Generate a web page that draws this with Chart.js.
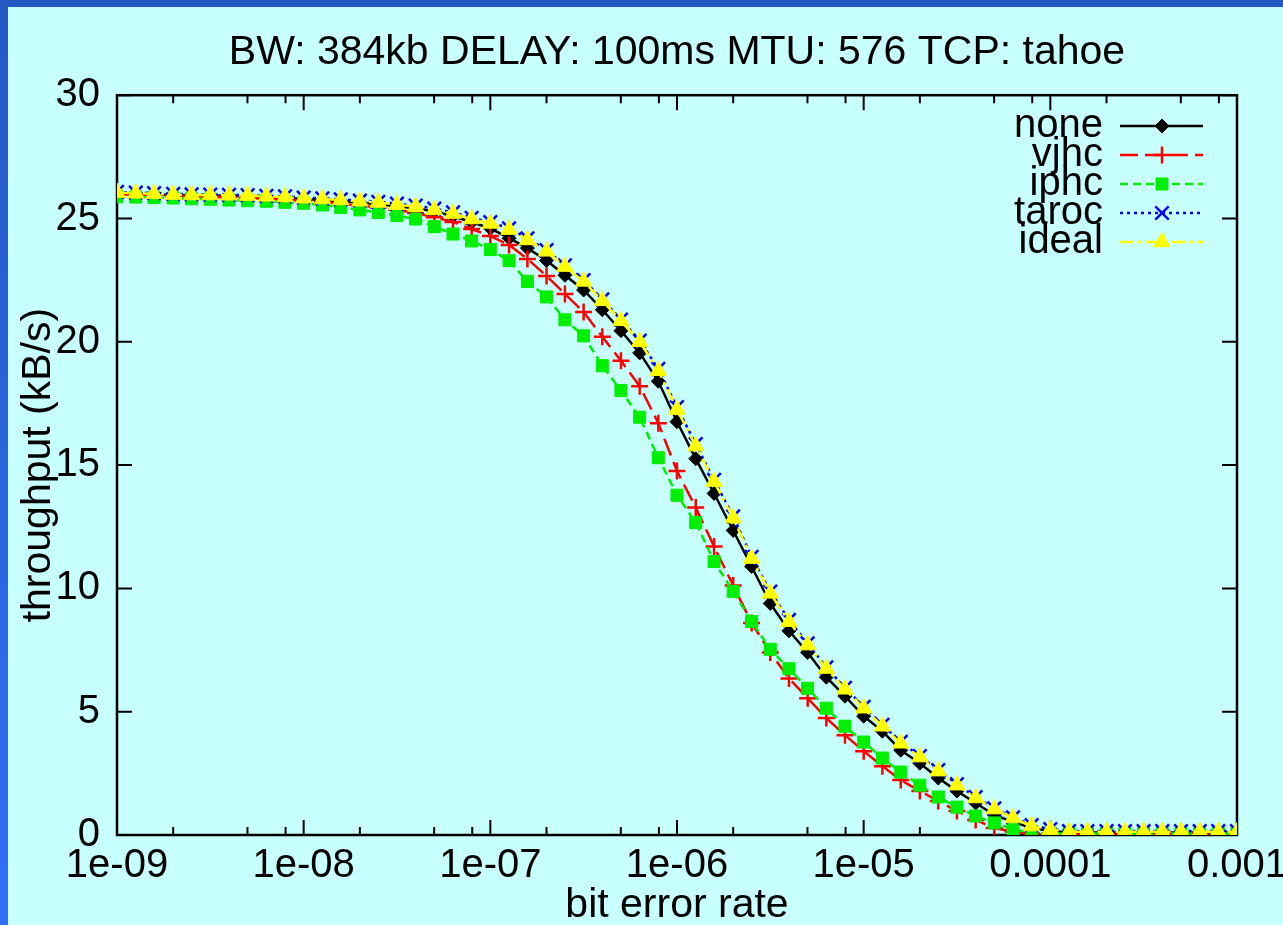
<!DOCTYPE html>
<html>
<head>
<meta charset="utf-8">
<script src="https://cdn.jsdelivr.net/npm/chart.js@4.4.0/dist/chart.umd.min.js"></script>
<style>
  html, body { margin: 0; padding: 0; }
  body { width: 1283px; height: 925px; overflow: hidden; background: linear-gradient(to bottom, #2459c2, #3070f6); position: relative; }
  #panel { position: absolute; left: 8px; top: 7px; width: 1275px; height: 918px; background: #c8ffff; }
  #chart { display: block; }
</style>
</head>
<body>
<div id="panel"><canvas id="chart" width="1275" height="918"></canvas></div>
<script>
// bit error rate samples (10 per decade)
const bitErrorRate = [
  1e-9, 1.26e-9, 1.58e-9, 2e-9, 2.51e-9, 3.16e-9, 3.98e-9, 5.01e-9, 6.31e-9, 7.94e-9,
  1e-8, 1.26e-8, 1.58e-8, 2e-8, 2.51e-8, 3.16e-8, 3.98e-8, 5.01e-8, 6.31e-8, 7.94e-8,
  1e-7, 1.26e-7, 1.58e-7, 2e-7, 2.51e-7, 3.16e-7, 3.98e-7, 5.01e-7, 6.31e-7, 7.94e-7,
  1e-6, 1.26e-6, 1.58e-6, 2e-6, 2.51e-6, 3.16e-6, 3.98e-6, 5.01e-6, 6.31e-6, 7.94e-6,
  1e-5, 1.26e-5, 1.58e-5, 2e-5, 2.51e-5, 3.16e-5, 3.98e-5, 5.01e-5, 6.31e-5, 7.94e-5,
  1e-4, 1.26e-4, 1.58e-4, 2e-4, 2.51e-4, 3.16e-4, 3.98e-4, 5.01e-4, 6.31e-4, 7.94e-4,
  1e-3
];

// throughput (kB/s) per compression scheme
const none = [
  26.03, 26.0, 25.98, 25.95, 25.93, 25.93, 25.92, 25.9, 25.87, 25.84,
  25.79, 25.75, 25.7, 25.65, 25.58, 25.5, 25.42, 25.28, 25.1, 24.85,
  24.6, 24.2, 23.8, 23.3, 22.7, 22.1, 21.3, 20.45, 19.55, 18.4,
  16.76, 15.26, 13.85, 12.35, 10.89, 9.39, 8.28, 7.4, 6.4, 5.63,
  4.82, 4.21, 3.44, 2.91, 2.31, 1.78, 1.3, 0.81, 0.53, 0.28,
  0.16, 0.1, 0.1, 0.1, 0.1, 0.1, 0.1, 0.1, 0.1, 0.1,
  0.1
];
const vjhc = [
  25.98, 25.96, 25.95, 25.93, 25.9, 25.88, 25.86, 25.84, 25.8, 25.76,
  25.72, 25.66, 25.6, 25.52, 25.45, 25.35, 25.22, 25.05, 24.86, 24.57,
  24.29, 23.93, 23.36, 22.67, 21.94, 21.21, 20.2, 19.23, 18.2, 16.7,
  14.76, 13.28, 11.7, 10.12, 8.6, 7.4, 6.35, 5.55, 4.74, 4.05,
  3.4, 2.79, 2.23, 1.78, 1.38, 0.97, 0.61, 0.28, 0.14, 0.06,
  0.04, 0.04, 0.04, 0.04, 0.04, 0.04, 0.04, 0.04, 0.04, 0.04,
  0.04
];
const iphc = [
  25.88, 25.87, 25.85, 25.83, 25.8, 25.78, 25.75, 25.72, 25.7, 25.66,
  25.62, 25.55, 25.45, 25.35, 25.24, 25.12, 24.98, 24.67, 24.37, 24.09,
  23.74, 23.29, 22.45, 21.82, 20.89, 20.24, 19.03, 18.02, 16.94, 15.3,
  13.78, 12.67, 11.09, 9.88, 8.66, 7.53, 6.74, 5.95, 5.14, 4.41,
  3.77, 3.12, 2.55, 2.02, 1.54, 1.13, 0.77, 0.49, 0.24, 0.08,
  0.06, 0.06, 0.06, 0.06, 0.06, 0.06, 0.06, 0.06, 0.06, 0.06,
  0.06
];
const taroc = [
  26.08, 26.05, 26.03, 26.0, 25.98, 25.97, 25.96, 25.95, 25.92, 25.9,
  25.85, 25.82, 25.78, 25.73, 25.68, 25.6, 25.52, 25.4, 25.25, 25.03,
  24.85, 24.6, 24.2, 23.72, 23.1, 22.5, 21.72, 20.9, 20.05, 18.9,
  17.35, 15.85, 14.4, 12.92, 11.28, 9.87, 8.72, 7.77, 6.8, 5.97,
  5.2, 4.47, 3.78, 3.2, 2.63, 2.06, 1.54, 1.08, 0.72, 0.4,
  0.24, 0.16, 0.16, 0.16, 0.16, 0.16, 0.16, 0.16, 0.16, 0.16,
  0.16
];
const ideal = [
  26.05, 26.02, 26.0, 25.97, 25.95, 25.95, 25.94, 25.93, 25.9, 25.87,
  25.82, 25.79, 25.75, 25.7, 25.65, 25.56, 25.48, 25.35, 25.2, 24.98,
  24.8, 24.55, 24.13, 23.67, 23.05, 22.45, 21.66, 20.85, 20.0, 18.83,
  17.25, 15.77, 14.33, 12.85, 11.21, 9.8, 8.65, 7.7, 6.75, 5.91,
  5.14, 4.41, 3.72, 3.16, 2.59, 2.02, 1.5, 1.05, 0.69, 0.36,
  0.22, 0.13, 0.13, 0.13, 0.13, 0.13, 0.13, 0.13, 0.13, 0.13,
  0.13
];

const seriesNames = ['none', 'vjhc', 'iphc', 'taroc', 'ideal'];
const seriesValues = [none, vjhc, iphc, taroc, ideal];

const xTickValues = [1e-9, 1e-8, 1e-7, 1e-6, 1e-5, 1e-4, 1e-3];
const xTickLabels = ['1e-09', '1e-08', '1e-07', '1e-06', '1e-05', '0.0001', '0.001'];
const xMinorTickValues = [
  2e-9, 5e-9, 8e-9, 2e-8, 5e-8, 8e-8, 2e-7, 5e-7, 8e-7,
  2e-6, 5e-6, 8e-6, 2e-5, 5e-5, 8e-5, 2e-4, 5e-4, 8e-4
];
const yTickValues = [0, 5, 10, 15, 20, 25, 30];

const styles = [
  { color: '#000000', dash: [], point: 'rectRot', radius: 7, bw: 1, fill: true },
  { color: '#ff0000', dash: [18, 7], point: 'cross', radius: 8.5, bw: 2.5, fill: false },
  { color: '#00ee00', dash: [8, 5], point: 'rect', radius: 8.5, bw: 1, fill: true },
  { color: '#0000ff', dash: [3, 4], point: 'crossRot', radius: 9.5, bw: 2.5, fill: false },
  { color: '#ffff00', dash: [13, 5, 3, 5], point: 'triangle', radius: 9.5, bw: 1, fill: true }
];

const FONT = '"Liberation Sans", Arial, sans-serif';
Chart.defaults.font.family = FONT;
Chart.defaults.color = '#000';

const datasets = seriesNames.map((name, k) => ({
  label: name,
  data: bitErrorRate.map((x, i) => ({ x: x, y: seriesValues[k][i] })),
  borderColor: styles[k].color,
  backgroundColor: styles[k].color,
  borderWidth: 2.5,
  borderDash: styles[k].dash,
  pointStyle: styles[k].point,
  pointRadius: styles[k].radius,
  pointBorderWidth: styles[k].bw,
  pointBackgroundColor: styles[k].color,
  pointBorderColor: styles[k].color,
  tension: 0,
  order: seriesNames.length - k
}));

// frame and inward tick marks, gnuplot style
const framePlugin = {
  id: 'frame',
  beforeDatasetsDraw(chart) {
    const { ctx, chartArea: a, scales } = chart;
    ctx.save();
    ctx.strokeStyle = '#000';
    ctx.lineWidth = 2;
    ctx.setLineDash([]);
    ctx.beginPath();
    xTickValues.forEach(v => {
      const px = scales.x.getPixelForValue(v);
      ctx.moveTo(px, a.bottom); ctx.lineTo(px, a.bottom - 15);
      ctx.moveTo(px, a.top); ctx.lineTo(px, a.top + 15);
    });
    xMinorTickValues.forEach(v => {
      const px = scales.x.getPixelForValue(v);
      ctx.moveTo(px, a.bottom); ctx.lineTo(px, a.bottom - 8);
      ctx.moveTo(px, a.top); ctx.lineTo(px, a.top + 8);
    });
    yTickValues.forEach(v => {
      const py = scales.y.getPixelForValue(v);
      ctx.moveTo(a.left, py); ctx.lineTo(a.left + 15, py);
      ctx.moveTo(a.right, py); ctx.lineTo(a.right - 15, py);
    });
    ctx.stroke();
    ctx.lineWidth = 2.5;
    ctx.strokeRect(a.left, a.top, a.right - a.left, a.bottom - a.top);
    ctx.restore();
  }
};

// key in the top right corner, inside the plot
const keyPlugin = {
  id: 'key',
  afterDraw(chart) {
    const { ctx } = chart;
    ctx.save();
    ctx.font = '40px ' + FONT;
    ctx.textAlign = 'right';
    ctx.textBaseline = 'middle';
    seriesNames.forEach((name, k) => {
      const y = 119 + k * 29;
      const s = styles[k];
      ctx.fillStyle = '#000';
      ctx.fillText(name, 1095, y);
      ctx.strokeStyle = s.color;
      ctx.lineWidth = 2.5;
      ctx.setLineDash(s.dash);
      ctx.beginPath();
      ctx.moveTo(1112, y);
      ctx.lineTo(1195, y);
      ctx.stroke();
      ctx.setLineDash([]);
      ctx.fillStyle = s.color;
      ctx.lineWidth = s.bw;
      Chart.helpers.drawPoint(ctx, { pointStyle: s.point, radius: s.radius, borderWidth: s.bw, rotation: 0 }, 1154, y);
    });
    ctx.restore();
  }
};

new Chart(document.getElementById('chart'), {
  type: 'line',
  data: { datasets: datasets },
  plugins: [framePlugin, keyPlugin],
  options: {
    responsive: false,
    animation: false,
    devicePixelRatio: 1,
    layout: { padding: { left: 0, right: 46, top: 0, bottom: 0 } },
    plugins: {
      legend: { display: false },
      tooltip: { enabled: false },
      title: {
        display: true,
        fullSize: false,
        text: 'BW: 384kb DELAY: 100ms MTU: 576 TCP: tahoe',
        font: { size: 41, weight: 'normal' },
        color: '#000',
        padding: { top: 21, bottom: 18 }
      }
    },
    scales: {
      x: {
        type: 'logarithmic',
        min: 1e-9,
        max: 1e-3,
        grid: { display: false, drawTicks: false },
        border: { display: false },
        afterBuildTicks: axis => { axis.ticks = xTickValues.map(v => ({ value: v, major: true })); },
        afterFit: axis => { axis.height = 90; axis.paddingLeft = 0; axis.paddingRight = 0; },
        ticks: {
          autoSkip: false,
          maxRotation: 0,
          padding: 7,
          font: { size: 40 },
          color: '#000',
          callback: (v) => xTickLabels[xTickValues.findIndex(t => Math.abs(Math.log10(t) - Math.log10(v)) < 1e-6)]
        },
        title: {
          display: true,
          text: 'bit error rate',
          font: { size: 41, lineHeight: 0.9 },
          color: '#000',
          padding: { top: 0, bottom: 0.5 }
        }
      },
      y: {
        min: 0,
        max: 30,
        grid: { display: false, drawTicks: false },
        border: { display: false },
        afterFit: axis => { axis.width = 109; axis.paddingTop = 0; axis.paddingBottom = 0; },
        ticks: { stepSize: 5, padding: 17, font: { size: 40 }, color: '#000' },
        title: {
          display: true,
          text: 'throughput (kB/s)',
          font: { size: 41 },
          color: '#000',
          padding: { top: 6, bottom: 0 }
        }
      }
    }
  }
});
</script>
</body>
</html>
